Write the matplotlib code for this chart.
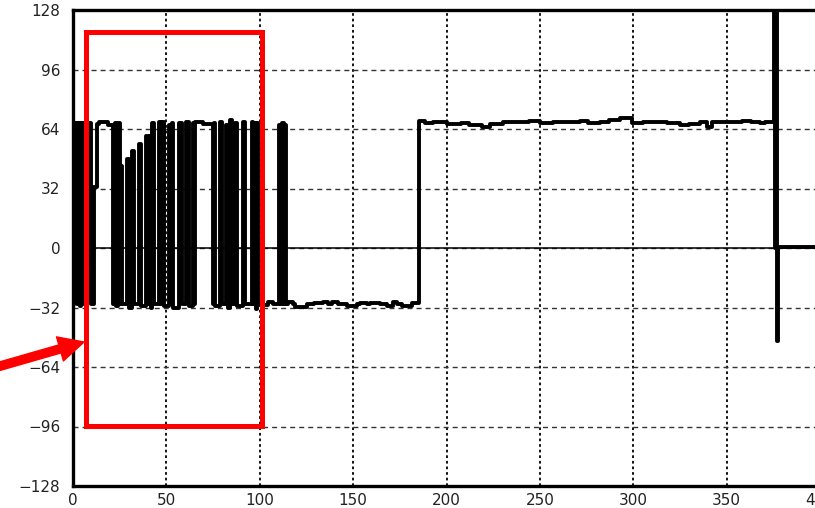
import matplotlib
matplotlib.use("Agg")
import matplotlib.pyplot as plt
from matplotlib.patches import Rectangle, FancyArrowPatch

# step series: time of each change and the level it changes to
burst_t = [0.0, 0.4, 0.8, 1.3, 1.9, 2.4, 3.0, 3.6, 4.2, 4.8, 5.4, 6.0, 6.6, 7.4, 7.9,
           8.4, 8.9, 9.5, 9.9, 11.2, 12.6, 14.0, 17.0, 18.5, 21.4, 22.3, 23.2, 24.1,
           24.9, 25.6, 26.3, 28.7, 29.9, 31.5, 32.8, 35.2, 36.4, 39.2, 40.2, 41.0,
           41.7, 42.2, 43.2, 46.2, 47.1, 47.7, 48.6, 51.3, 52.0, 52.8, 53.8, 56.9,
           58.1, 60.7, 61.9, 64.4, 64.9, 65.4, 69.8, 75.2, 75.7, 76.3, 78.8, 80.0,
           81.9, 82.8, 84.3, 85.2, 86.8, 87.9, 91.0, 92.3, 95.6, 96.4, 97.1, 97.8,
           98.4, 99.0]
burst_v = [67, -30, 67, 22, 67, -30, 67, -31, 67, 2, 67, -30, 67, -9, 67,
           -9, 67, -9, -30, 33, 66.5, 68, 67.5, 66, -30, 67, -31, 67,
           -30, 44, -30, 48, -32, 52, -30, 56, -31, 60, -30, 60,
           -32, 67, -30, 68, -30, 68, -31, 66, -30, 67, -32, 67,
           -30, 68, -31, 67, -30, 68, 66.5, -30, 67, -31, 68, -30,
           66, -32, 69, -30, 67, -31, 68, -30, 68, -30, 67, -33,
           67, -30]

low_t = [100.5, 104.4, 107.1, 110.5, 111.3, 112.0, 112.8, 113.5, 114.3, 115.1, 117.8,
         118.8, 125.3, 129.0, 133.8, 136.5, 138.7, 141.9, 146.7, 152.0, 153.6, 157.4,
         159.0, 164.3, 168.0, 171.3, 173.4, 176.1, 181.5]
low_v = [-30.5, -29, -30.3, 66, -30, 67, -30, 66, -30, -29, -30.3,
         -31.6, -30.3, -29.6, -29, -30.3, -29, -30.3, -31.2, -30.3, -29.4, -30.3,
         -29.8, -30.3, -31, -28.9, -30.3, -31.4, -29.8]

high_t = [185.5, 188.4, 192.7, 198.1, 200.2, 203.4, 208.0, 212.0, 219.0, 223.2, 230.2,
          237.7, 244.0, 250.0, 257.0, 264.5, 271.4, 276.0, 282.1, 287.0, 292.8, 299.3,
          305.0, 310.0, 318.0, 325.0, 330.0, 335.7, 339.4, 342.1, 350.0, 358.0, 363.0,
          367.8, 370.5]
high_v = [68.5, 67, 68, 67.5, 66.5, 66.7, 67.3, 66.4, 65.2, 66.6, 68,
          67.5, 68.2, 67, 67.6, 68, 68.2, 67.4, 68, 68.6, 69.8, 67.2,
          67.9, 67.8, 67, 66.2, 66.8, 67.5, 65.2, 68, 67.6, 68.3, 67.6,
          67, 68]

spike_t = [375.5, 376.0, 376.5, 377.1, 377.6, 400.0]
spike_v = [130, 0, 130, -50, 0.5, 0.5]

x_ticks = [0, 50, 100, 150, 200, 250, 300, 350, 400]
y_ticks = [-128, -96, -64, -32, 0, 32, 64, 96, 128]

# highlighted window (data units)
box_x = (6.7, 101.2)
box_y = (-95.5, 116.4)

W, H = 815, 508
fig = plt.figure(figsize=(W / 100, H / 100), dpi=100)
ax = fig.add_axes([73 / W, 1 - 486 / H, (820 - 73) / W, (486 - 10) / H])

t = burst_t + low_t + high_t + spike_t
v = burst_v + low_v + high_v + spike_v
ax.plot(t, v, drawstyle="steps-post", color="black", lw=2.8, zorder=3)

ax.set_xlim(0, 400)
ax.set_ylim(-128, 128)
ax.set_xticks(x_ticks)
ax.set_yticks(y_ticks)
ax.tick_params(length=0, labelsize=11, labelcolor="#222222")
ax.tick_params(axis="y", pad=9)
ax.tick_params(axis="x", pad=5)

ax.xaxis.grid(True, color="black", lw=1.3, ls=(0, (1.5, 1.6)), zorder=1)
ax.yaxis.grid(True, color="#333333", lw=1.0, ls=(0, (3.6, 2.9)), zorder=1)
ax.axhline(0, color="black", lw=1.1, zorder=2)

for s in ("left", "top", "bottom"):
    ax.spines[s].set_linewidth(2.4)
ax.spines["right"].set_visible(False)

ax.add_patch(Rectangle((box_x[0], box_y[0]), box_x[1] - box_x[0], box_y[1] - box_y[0],
                       fill=False, ec="red", lw=3.6, joinstyle="miter", zorder=5, clip_on=False))

arrow = FancyArrowPatch((-10 / W, 1 - 369 / H), (84 / W, 1 - 342 / H), transform=fig.transFigure,
                        arrowstyle="simple,head_length=0.9,head_width=0.9,tail_width=0.3",
                        mutation_scale=20, color="red", shrinkA=0, shrinkB=0, zorder=6)
fig.add_artist(arrow)

fig.savefig("out.png", dpi=100)
